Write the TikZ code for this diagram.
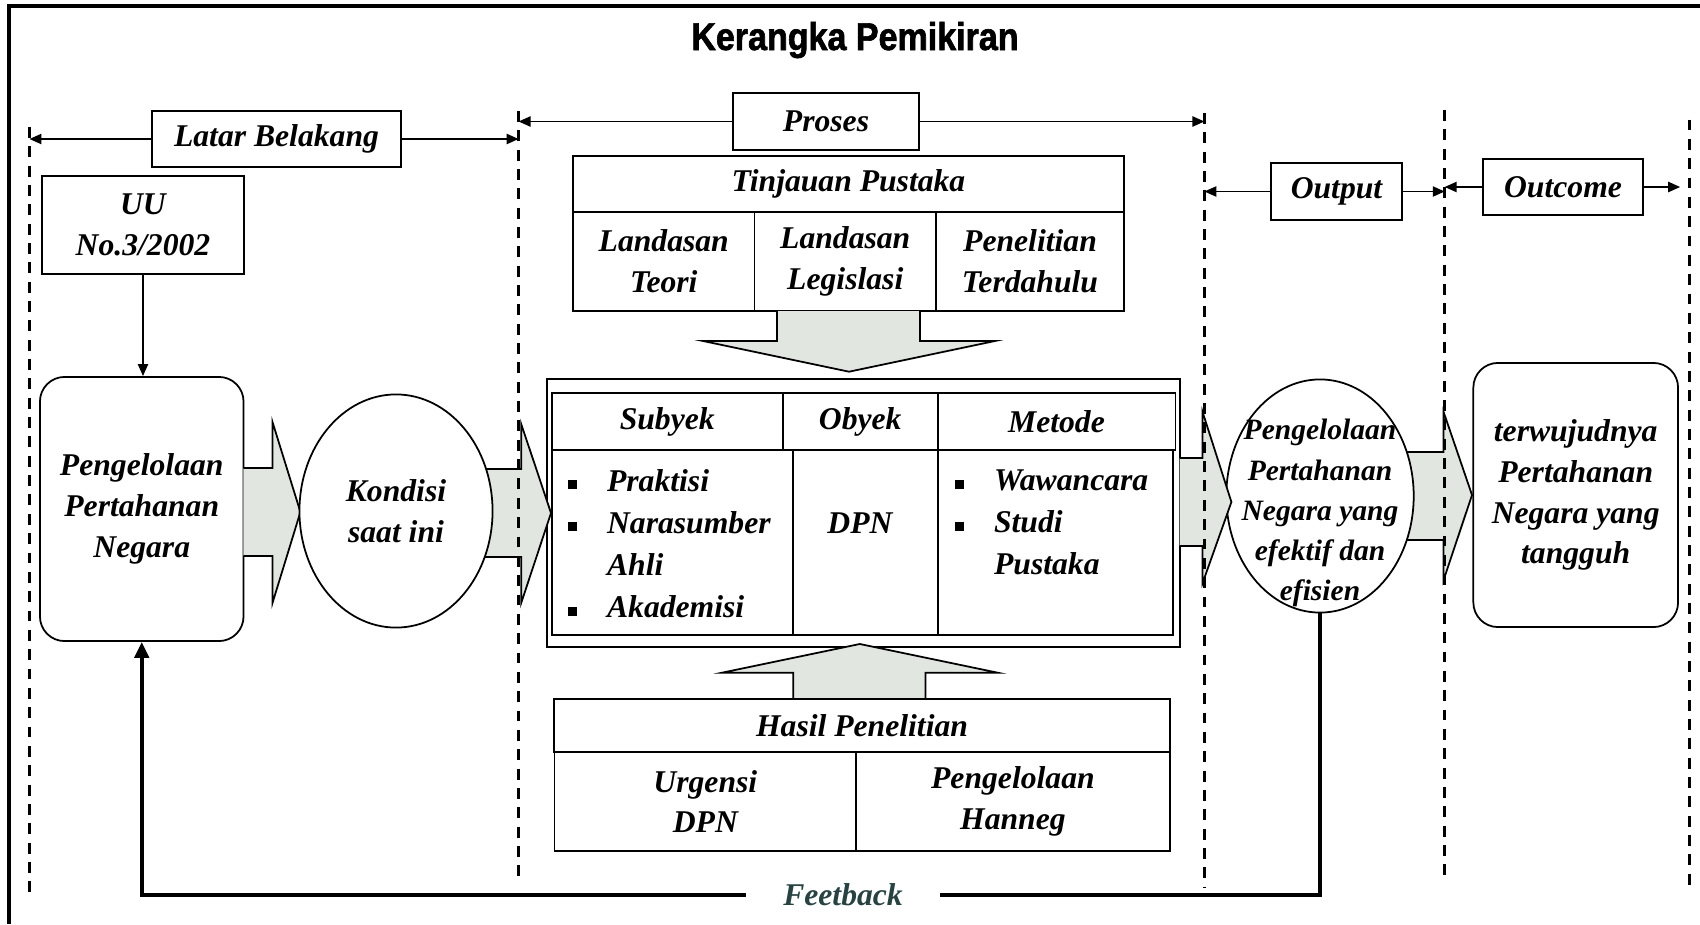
\documentclass[tikz,border=0pt]{standalone}
\usepackage{fontspec}
\setmainfont{Liberation Serif}
\newfontfamily\judulfont[FakeStretch=0.88, BoldFeatures={FakeBold=1.6}]{Liberation Sans}
\usetikzlibrary{arrows.meta,shapes.geometric}
\definecolor{panahisi}{RGB}{226,230,225}
\definecolor{feedwarna}{RGB}{40,66,66}
\newcommand{\kotakpoin}{\makebox[11.2pt][l]{\rule[0.5pt]{2.6pt}{2.6pt}}}
\tikzset{
  teks/.style={font=\bfseries\itshape\fontsize{9}{11.6}\selectfont, align=center},
  kotak/.style={teks, draw, line width=0.5pt, inner sep=0pt},
  garisbatas/.style={dash pattern=on 3.1pt off 2.4pt, line width=0.75pt},
  panahtipis/.style={-{Triangle[length=3.4pt,width=2.9pt]}, line width=0.5pt},
  panahbesar/.style={fill=panahisi, draw, line width=0.5pt, line join=miter},
}
\begin{document}
\begin{tikzpicture}[x=0.01cm, y=-0.01cm]
\useasboundingbox (0,0) rectangle (1700,924);
\draw[line width=1.2pt] (9,924) -- (9,6) -- (1700,6);
\node[font=\judulfont\bfseries\fontsize{11}{12}\selectfont, anchor=base] (judul) at (855,50) {Kerangka Pemikiran};

% garis batas
\foreach \x/\atas/\bawah [count=\i] in {29.5/127/898, 518.6/111/884, 1204.4/113/887, 1444.7/110/880, 1689.3/119.5/892}
  {\coordinate (g\i) at (\x,\atas); \coordinate (h\i) at (\x,\bawah);}

% judul kolom
\node[kotak, minimum width=2.49cm, minimum height=0.56cm] (latar) at (276.5,139) {Latar Belakang};
\node[kotak, minimum width=1.865cm, minimum height=0.57cm] (proses) at (826,121.5) {Proses};
\node[kotak, minimum width=1.31cm, minimum height=0.57cm] (output) at (1336.5,191.5) {Output};
\node[kotak, minimum width=1.60cm, minimum height=0.56cm] (outcome) at (1563,187) {Outcome};
\draw[panahtipis] (latar.west) -- (latar.west -| g1);
\draw[panahtipis] (latar.east) -- (latar.east -| g2);
\draw[panahtipis] (proses.west) -- (proses.west -| g2);
\draw[panahtipis] (proses.east) -- (proses.east -| g3);
\draw[panahtipis] (output.west) -- (output.west -| g3);
\draw[panahtipis] (output.east) -- (output.east -| g4);
\draw[panahtipis] (outcome.west) -- (outcome.west -| g4);
\draw[panahtipis, shorten >=2.6pt] (outcome.east) -- (outcome.east -| g5);

% latar belakang
\node[kotak, minimum width=2.02cm, minimum height=0.98cm] (uu) at (143,225) {UU\\No.3/2002};
\node[kotak, rounded corners=7pt, minimum width=2.035cm, minimum height=2.64cm] (ppn) at (141.75,509) {Pengelolaan\\Pertahanan\\Negara};
\draw[panahtipis] (uu.south) -- (uu.south |- ppn.north);

% tinjauan pustaka
\node[kotak, minimum width=5.51cm, minimum height=0.56cm] (tinjauan) at (848.5,184) {Tinjauan Pustaka};
\node[kotak, minimum width=1.815cm, minimum height=0.99cm] (teori) at (663.75,261.5) {Landasan\\Teori};
\node[kotak, minimum width=1.815cm, minimum height=0.99cm] (legislasi) at (845.25,261.5) {Landasan\\Legislasi};
\node[kotak, minimum width=1.88cm, minimum height=0.99cm] (terdahulu) at (1030,261.5) {Penelitian\\Terdahulu};
\draw[panahbesar] (777,311) -- (777,341) -- (703,341) -- (849,371.7) -- (995,341) -- (920,341) -- (920,311);

% subyek obyek metode
\node[draw, line width=0.5pt, minimum width=6.324cm, minimum height=2.674cm, inner sep=0pt] (tabel) at (863.5,513) {};
\node[kotak, minimum width=2.311cm, minimum height=0.567cm] (subyek) at (667.25,421.65) {Subyek};
\node[kotak, minimum width=1.549cm, minimum height=0.567cm] (obyek) at (860.25,421.65) {Obyek};
\node[kotak, minimum width=2.376cm, minimum height=0.567cm] (metode) at (1056.5,421.65) {Metode};
\node[kotak, minimum width=2.416cm, minimum height=1.85cm] (isisubyek) at (672.5,542.5) {};
\node[kotak, minimum width=1.444cm, minimum height=1.85cm] (isiobyek) at (865.5,542.5) {};
\node[kotak, minimum width=2.353cm, minimum height=1.85cm] (isimetode) at (1055.35,542.5) {};
\node[teks, align=left, anchor=west, inner sep=0pt, font=\bfseries\itshape\fontsize{9}{12}\selectfont] (daftarsubyek) at (567,543.5)
  {\kotakpoin Praktisi\\\kotakpoin Narasumber\\\hspace*{11.2pt}Ahli\\\kotakpoin Akademisi};
\node[teks, inner sep=0pt] (dpn) at (860,523) {DPN};
\node[teks, align=left, anchor=west, inner sep=0pt, font=\bfseries\itshape\fontsize{9}{12}\selectfont] (daftarmetode) at (954,522.5)
  {\kotakpoin Wawancara\\\kotakpoin Studi\\\hspace*{11.2pt}Pustaka};

% hasil penelitian
\draw[panahbesar] (793.3,699) -- (793.3,672.7) -- (722,672.7) -- (859.8,644) -- (997.7,672.7) -- (925.4,672.7) -- (925.4,699);
\node[kotak, minimum width=6.151cm, minimum height=0.53cm] (hasilpen) at (862,725.5) {Hasil Penelitian};
\node[kotak, minimum width=3.017cm, minimum height=0.99cm] (urgensi) at (705.35,801.5) {Urgensi\\DPN};
\node[kotak, minimum width=3.134cm, minimum height=0.99cm] (hanneg) at (1012.9,801.5) {Pengelolaan\\Hanneg};

% kondisi saat ini
\draw[panahbesar] (243.4,468) -- (272.5,468) -- (272.5,422) -- (300.4,512) -- (272.5,603) -- (272.5,556) -- (243.4,556);
\draw[panahbesar] (485,469) -- (521.2,469) -- (521.2,424) -- (551,513) -- (521.2,603) -- (521.2,557) -- (485,557);
\node[teks, draw, ellipse, fill=white, line width=0.5pt, minimum width=1.93cm, minimum height=2.33cm, inner sep=0pt] (kondisi) at (396,511) {Kondisi\\saat ini};

% output dan outcome
\draw[panahbesar] (1405,452) -- (1443.6,452) -- (1443.6,412) -- (1472,495) -- (1443.6,580) -- (1443.6,540) -- (1405,540);
\node[draw, ellipse, fill=white, line width=0.5pt, minimum width=1.873cm, minimum height=2.33cm, inner sep=0pt] (outell) at (1320,496) {};
\node[teks, inner sep=0pt, font=\bfseries\itshape\fontsize{8.4}{11.4}\selectfont] (outteks) at (1320,513)
  {Pengelolaan\\Pertahanan\\Negara yang\\efektif dan\\efisien};
\draw[panahbesar] (1179.7,458) -- (1202.6,458) -- (1202.6,412) -- (1231.4,502) -- (1202.6,583) -- (1202.6,546) -- (1179.7,546);
\node[kotak, rounded corners=7pt, minimum width=2.046cm, minimum height=2.64cm] (tangguh) at (1575.7,495) {terwujudnya\\Pertahanan\\Negara yang\\tangguh};

% feedback
\coordinate (fbsudut) at (141.75,895);
\draw[line width=1.2pt, -{Triangle[length=4.5pt,width=4pt]}] (outell.south) |- (fbsudut) -- (ppn.south);
\node[fill=white, inner xsep=10.5pt, inner ysep=1pt, text=feedwarna, font=\bfseries\itshape\fontsize{9}{11}\selectfont] (feed) at (843,895) {Feetback};

\foreach \i in {1,...,5}
  \draw[garisbatas] (g\i) -- (h\i);
\end{tikzpicture}
\end{document}
